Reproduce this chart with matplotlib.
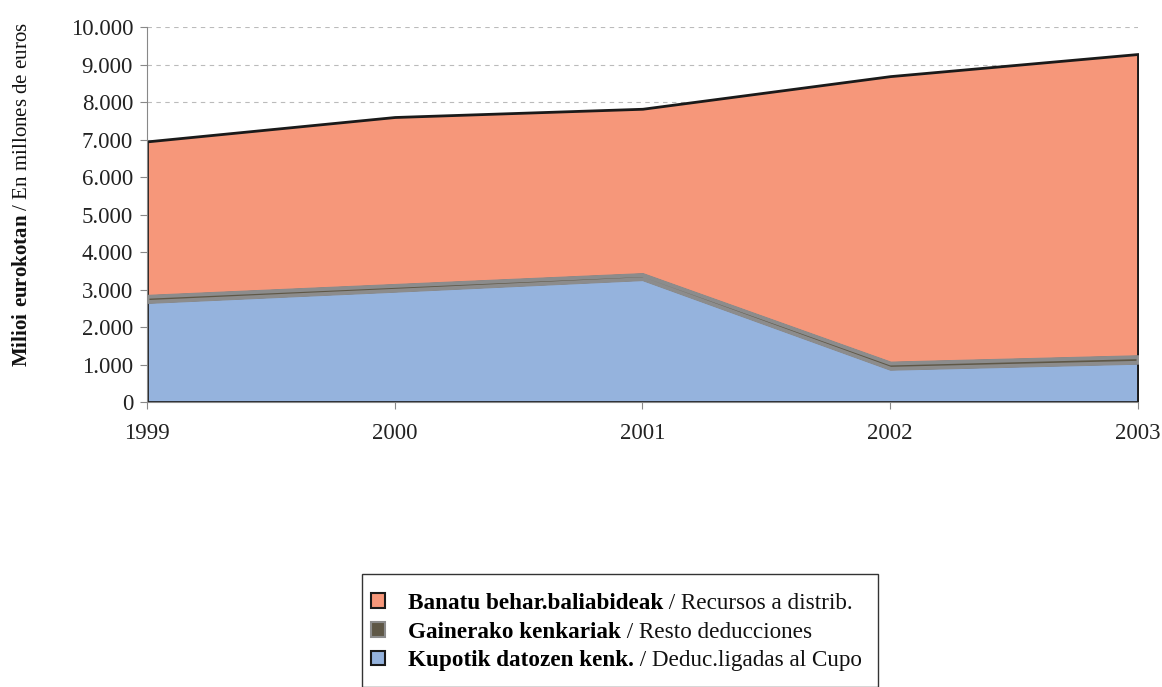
import matplotlib.pyplot as plt
from matplotlib.patches import Patch, Rectangle
from matplotlib.ticker import FuncFormatter

# ==== DATOS ====
years = [1999, 2000, 2001, 2002, 2003]
kupotik = [2680, 2980, 3290, 900, 1060]        # Deduc.ligadas al Cupo
gainerako = [140, 130, 110, 140, 150]          # Resto deducciones
banatu = [4130, 4490, 4420, 7650, 8070]        # Recursos a distrib.
leg_bold = ["Banatu behar.baliabideak", "Gainerako kenkariak", "Kupotik datozen kenk."]
leg_normal = [" / Recursos a distrib.", " / Resto deducciones", " / Deduc.ligadas al Cupo"]
# ================

plt.rcParams['font.family'] = ['Liberation Serif', 'DejaVu Serif']
plt.rcParams['mathtext.fontset'] = 'custom'
plt.rcParams['mathtext.rm'] = 'Liberation Serif'
plt.rcParams['mathtext.bf'] = 'Liberation Serif:bold'

c_blue = '#95B3DD'
c_gray = '#5E5746'
c_gray_edge = '#8C8C8C'
c_orange = '#F6977A'

W, H = 1162, 687
fig = plt.figure(figsize=(W / 100, H / 100), dpi=100)
ax = fig.add_axes([0.1265, 0.4148, 0.8528, 0.5459])

polys = ax.stackplot(years, kupotik, gainerako, banatu,
                     colors=[c_blue, c_gray, c_orange])
polys[0].set_edgecolor('#1a1a1a'); polys[0].set_linewidth(2); polys[0].set_zorder(2)
polys[1].set_edgecolor(c_gray_edge); polys[1].set_linewidth(2.8); polys[1].set_zorder(3)
polys[2].set_edgecolor('#1a1a1a'); polys[2].set_linewidth(2); polys[2].set_zorder(1)

ax.set_xlim(1999, 2003)
ax.set_ylim(0, 10000)
ax.set_xticks(years)
ax.set_yticks(range(0, 10001, 1000))
ax.yaxis.set_major_formatter(FuncFormatter(lambda v, p: f"{int(v):,}".replace(",", ".")))
ax.tick_params(axis='both', labelsize=16.5, colors='#222222', direction='out', length=5)
ax.tick_params(axis='x', pad=10, color='#888888')
ax.tick_params(axis='y', pad=5, color='#888888')

ax.grid(axis='y', linestyle=(0, (4, 4)), color='#bbbbbb', linewidth=0.8)
ax.set_axisbelow(True)
for s in ['top', 'right']:
    ax.spines[s].set_visible(False)
ax.spines['left'].set_color('#888888')
ax.spines['bottom'].set_color('#888888')

# etiqueta del eje Y
fig.text(23 / W, 1 - 195 / H, r"$\bf{Milioi\ eurokotan}$ / En millones de euros",
         rotation=90, fontsize=15, ha='center', va='center', color='#111111')

# caja de la leyenda
fig.patches.append(Rectangle((362 / W, 0), (878 - 362) / W, 1 - 574 / H,
                             transform=fig.transFigure, facecolor='white',
                             edgecolor='#333333', linewidth=1, zorder=0))

handles = [Patch(facecolor=c_orange, edgecolor='#1a1a1a', linewidth=1.5),
           Patch(facecolor=c_gray, edgecolor=c_gray_edge, linewidth=1.5),
           Patch(facecolor=c_blue, edgecolor='#1a1a1a', linewidth=1.5)]
leg = fig.legend(handles, leg_bold, loc='upper left', bbox_to_anchor=(371 / W, 1 - 593 / H),
                 frameon=False, handlelength=0.6, handleheight=0.6, handletextpad=1.0,
                 labelspacing=0.33, borderpad=0, borderaxespad=0,
                 prop={'weight': 'bold', 'size': 16.7})

# texto normal a continuación de la parte en negrita
fig.canvas.draw()
r = fig.canvas.get_renderer()
for t, extra in zip(leg.get_texts(), leg_normal):
    bb = t.get_window_extent(r)
    fig.text(bb.x1 / W, (bb.y0 + bb.y1) / 2 / H, extra, fontsize=16.7,
             va='center', ha='left', color='#111111', zorder=10)

fig.savefig('out.png', dpi=100)
